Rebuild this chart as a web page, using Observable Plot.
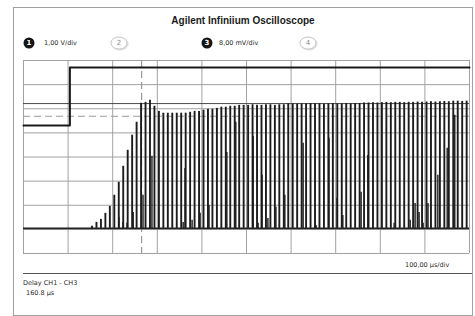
<!DOCTYPE html>
<html><head><meta charset="utf-8">
<script src="https://cdn.jsdelivr.net/npm/d3@7"></script>
<script src="https://cdn.jsdelivr.net/npm/@observablehq/plot@0.6"></script>
<style>
body{margin:0;background:#fff;font-family:"DejaVu Sans",Verdana,sans-serif;}
#wrap{position:relative;width:475px;height:316px;overflow:hidden;background:#fff;}
#wrap svg{position:absolute;left:0;top:0;}
#frame{position:absolute;left:13px;top:7px;width:460px;height:309px;border:1px solid #a0a0a0;box-sizing:border-box;}
.t{position:absolute;white-space:nowrap;color:#2a2a2a;transform:translateY(-50%);line-height:1;font-size:6.5px;}
.badge{position:absolute;border-radius:50%;transform:translate(-50%,-50%);text-align:center;font-size:7px;font-weight:bold;line-height:11px;width:11px;height:11px;}
.on{background:#151515;color:#fff;}
.off{background:#fff;color:#888;border:1px solid #c8c8c8;box-shadow:1px 1px 1px #ddd;width:15px;height:11px;line-height:11px;font-weight:normal;}
#sep{position:absolute;left:23px;top:273px;width:449px;height:0;border-top:1px solid #555;}
</style></head>
<body><div id="wrap"></div>
<script>
// ---- data ----
const titleText = "Agilent Infiniium Oscilloscope";
const channelLabels = ["1,00 V/div", "8,00 mV/div"];
const timebaseLabel = "100,00 \u00b5s/div";
const measureName = "Delay CH1 - CH3";
const measureValue = "160.8 \u00b5s";

const gridTimes = [0,100,200,300,400,500,600,700,800,900,1000]; // µs
const gridDivs = [-4,-3,-2,-1,0,1,2,3,4];

// CH1 (V): step edge
const ch1Times = [0, 104, 1000];
const ch1Volts = [0, 2.4, 2.4];
const ch1GroundDiv = 1.31;   // channel offset (div)
const ch1VoltsPerDiv = 1;

// CH3 (mV): spike burst, one pulse every 10 µs
const ch3FirstSpike = 153.6;   // µs
const ch3Period = 10;          // µs
const ch3Peaks = [
  0.7, 2.0, 3.0, 5.0, 7.3, 11.0, 15.3, 20.6, 25.9, 30.9, 35.2,
  41.5, 41.8, 42.5, 40.5, 38.8,
  38.2, 38.2, 38.2, 38.2, 38.2, 38.2,
  38.5, 38.8, 38.8, 39.2, 39.5, 39.5, 39.8, 40.2, 40.2, 40.5, 40.5, 40.8,
  40.8, 40.8, 41.0, 40.8, 40.8, 41.0, 41.0, 40.8, 41.0, 41.0,
  41.3, 41.3, 41.2, 41.3, 41.3, 41.4, 41.3, 41.3, 41.2, 41.3, 41.4, 41.3, 41.3, 41.4, 41.3, 41.4, 41.4,
  41.6, 41.6, 41.7, 41.6, 41.7, 41.8, 41.7, 41.8, 41.8, 41.7, 41.8, 41.8, 41.9, 41.8, 41.9, 42.0, 41.9, 42.0, 42.1, 42.0, 42.2, 42.2, 42.1, 42.2
];
const ch3MinorTimes = [214,223,232,246,268,288,358,362,378,396,416,456,476,515,526,535,548,566,586,627,656,685,703,716,757,772,831,867,878,887,896,907,929,950,967];
const ch3MinorPeaks = [3.7,2.0,1.7,5.3,11.0,23.9,2.0,19.9,2.7,5.0,7.6,25.2,35.2,30.5,1.7,17.6,3.3,7.0,11.0,28.2,1.0,29.9,10.0,4.3,12.0,24.2,1.7,2.7,8.3,5.3,1.7,8.3,17.6,26.6,37.5];
const ch3GroundDiv = -2.96;
const ch3mVPerDiv = 8;
const ch3TopLevel = 41.4;      // mV
const ch3RefLevel = 37.2;      // mV (90 %)
const cursorTime = 264.8;      // µs

// ---- build ----
const d1 = v => ch1GroundDiv + v / ch1VoltsPerDiv;
const d3v = v => ch3GroundDiv + v / ch3mVPerDiv;
const ch1 = ch1Times.map((t, i) => ({t, v: ch1Volts[i]}));
const spikes = ch3Peaks.map((p, i) => ({t: ch3FirstSpike + i * ch3Period, p}));
const minor = ch3MinorTimes.map((t, i) => ({t, p: ch3MinorPeaks[i]}));

const plot = Plot.plot({
  width: 475, height: 316,
  marginLeft: 23, marginRight: 6, marginTop: 60, marginBottom: 63,
  style: {background: "transparent"},
  x: {domain: [0, 1000], axis: null},
  y: {domain: [-4, 4], axis: null},
  marks: [
    Plot.ruleX(gridTimes, {x: d => d, stroke: "#a2a2a2", strokeWidth: 1}),
    Plot.ruleY(gridDivs, {y: d => d, stroke: "#a2a2a2", strokeWidth: 1}),
    Plot.ruleY([ch3RefLevel], {y: d => d3v(d), stroke: "#9a9a9a", strokeWidth: 1.2, strokeDasharray: "7,4"}),
    Plot.ruleX([cursorTime], {x: d => d, stroke: "#9a9a9a", strokeWidth: 1.2, strokeDasharray: "7,4"}),
    Plot.ruleY([ch3TopLevel], {y: d => d3v(d), stroke: "#4a4a4a", strokeWidth: 1}),
    Plot.line(ch1, {x: "t", y: d => d1(d.v), curve: "step-after", stroke: "#1a1a1a", strokeWidth: 2}),
    Plot.ruleY([0], {y: d => d3v(d), x1: 0, x2: 1000, stroke: "#222", strokeWidth: 1.8}),
    Plot.ruleX(spikes, {x: "t", y1: () => d3v(0), y2: d => d3v(d.p), stroke: "#1c1c1c", strokeWidth: 1.9}),
    Plot.ruleX(minor, {x: "t", y1: () => d3v(0), y2: d => d3v(d.p), stroke: "#1c1c1c", strokeWidth: 1.4})
  ]
});

const wrap = document.getElementById("wrap");
wrap.appendChild(plot);
function add(html) { wrap.insertAdjacentHTML("beforeend", html); }
add(`<div id="frame"></div>`);
add(`<div class="t" style="left:0;width:486px;text-align:center;top:21px;font-size:10px;font-weight:bold;color:#1a1a1a;font-family:'Liberation Sans',Arial,sans-serif">${titleText}</div>`);
add(`<div class="badge on" style="left:29px;top:43px">1</div>`);
add(`<div class="t" style="left:44px;top:43px">${channelLabels[0]}</div>`);
add(`<div class="badge off" style="left:119px;top:43px">2</div>`);
add(`<div class="badge on" style="left:207px;top:43px">3</div>`);
add(`<div class="t" style="left:219px;top:43px">${channelLabels[1]}</div>`);
add(`<div class="badge off" style="left:308px;top:43px">4</div>`);
add(`<div class="t" style="left:405px;top:265px">${timebaseLabel}</div>`);
add(`<div id="sep"></div>`);
add(`<div class="t" style="left:23px;top:283px">${measureName}</div>`);
add(`<div class="t" style="left:26px;top:293px">${measureValue}</div>`);
</script></body></html>
